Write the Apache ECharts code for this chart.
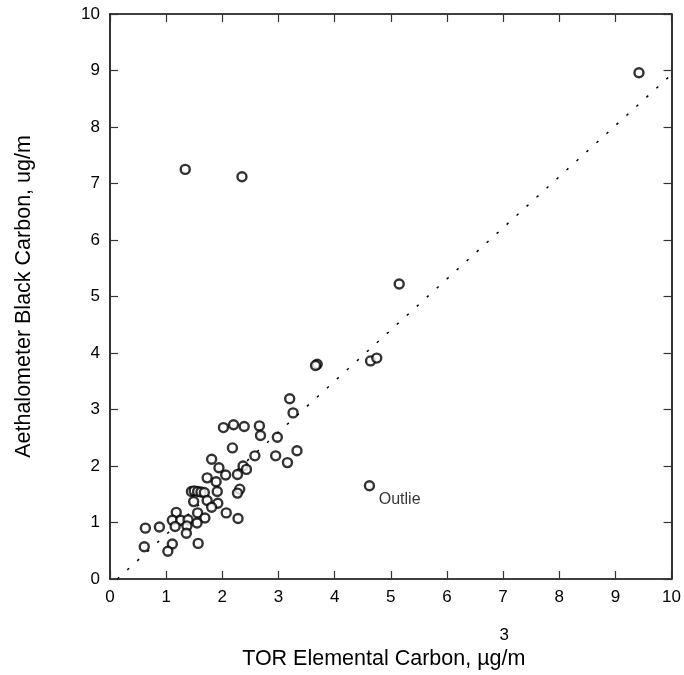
<!DOCTYPE html>
<html>
<head>
<meta charset="utf-8">
<script src="https://cdn.jsdelivr.net/npm/echarts@6/dist/echarts.min.js"></script>
<style>
  html, body { margin: 0; padding: 0; background: #fff; }
  #chart { width: 684px; height: 675px; }
</style>
</head>
<body>
<div id="chart"></div>
<script>
// TOR elemental carbon (x) vs aethalometer black carbon (y)
var torEC = [3.20, 3.26, 2.02, 2.20, 2.39, 2.66, 2.68, 2.98, 2.18, 2.58, 2.95, 3.33, 3.16,
  1.81, 1.94, 2.37, 2.43, 2.06, 2.27, 1.73, 1.89, 2.31, 2.27, 1.91, 1.45, 1.50, 1.56, 1.62,
  1.68, 1.49, 1.73, 1.92, 1.81, 1.18, 1.56, 2.07, 1.69, 2.28, 1.11, 1.26, 1.39, 1.16, 1.37,
  1.55, 1.36, 0.63, 0.88, 0.61, 1.11, 1.03, 1.57, 1.34, 2.35, 9.42, 5.15, 3.69, 3.66, 4.64, 4.75];
var aethBC = [3.19, 2.94, 2.68, 2.73, 2.70, 2.71, 2.54, 2.51, 2.32, 2.18, 2.18, 2.27, 2.06,
  2.12, 1.97, 2.00, 1.94, 1.84, 1.85, 1.79, 1.72, 1.59, 1.52, 1.55, 1.55, 1.56, 1.55, 1.54,
  1.53, 1.37, 1.39, 1.34, 1.27, 1.18, 1.17, 1.17, 1.08, 1.07, 1.04, 1.04, 1.05, 0.93, 0.94,
  0.99, 0.81, 0.90, 0.92, 0.57, 0.62, 0.49, 0.63, 7.25, 7.12, 8.96, 5.22, 3.80, 3.78, 3.86, 3.91];

var outlierX = [4.62];
var outlierY = [1.65];
var outlierText = 'Outlie';

// regression line end points
var fitX = [0.13, 10];
var fitY = [0, 8.93];

var axisTicks = [0, 1, 2, 3, 4, 5, 6, 7, 8, 9, 10];

var chartDom = document.getElementById('chart');
var myChart = echarts.init(chartDom, null, {renderer: 'canvas'});

var font = 'Liberation Sans, Arial, sans-serif';
var axisLine = {show: true, onZero: false, lineStyle: {color: '#000', width: 1.6}};
var tick = {show: true, inside: true, length: 8, lineStyle: {color: '#333', width: 1.2}};

function zip(a, b) {
  return a.map(function (v, i) { return [v, b[i]]; });
}

var symbolStyle = {color: '#fff', borderColor: '#000', borderWidth: 2.4};

var option = {
  animation: false,
  backgroundColor: '#fff',
  textStyle: {fontFamily: font},
  grid: {left: 110, right: 11, top: 14, bottom: 92},
  xAxis: [
    {
      type: 'value', min: 0, max: 10, interval: 1,
      position: 'bottom',
      axisLine: axisLine, axisTick: tick, splitLine: {show: false},
      axisLabel: {color: '#000', fontSize: 17, margin: 10, fontFamily: font,
        formatter: function (v) { return axisTicks.indexOf(v) >= 0 ? String(v) : ''; }},
      name: '{s|3}\n{t|TOR Elemental Carbon, \u00b5g/m}',
      nameLocation: 'middle',
      nameGap: 46,
      nameTextStyle: {
        rich: {
          s: {fontSize: 17, color: '#000', lineHeight: 21, padding: [0, 0, 0, 227], fontFamily: font},
          t: {fontSize: 21.5, color: '#000', lineHeight: 26, padding: [0, 14, 0, 0], fontFamily: font}
        }
      }
    },
    {
      type: 'value', min: 0, max: 10, interval: 1,
      position: 'top',
      axisLine: axisLine, axisTick: tick, splitLine: {show: false},
      axisLabel: {show: false}
    }
  ],
  yAxis: [
    {
      type: 'value', min: 0, max: 10, interval: 1,
      position: 'left',
      axisLine: axisLine, axisTick: tick, splitLine: {show: false},
      axisLabel: {color: '#000', fontSize: 17, margin: 10, fontFamily: font},
      name: 'Aethalometer Black Carbon, ug/m',
      nameLocation: 'middle',
      nameGap: 75,
      nameTextStyle: {fontSize: 21.5, color: '#000', fontFamily: font}
    },
    {
      type: 'value', min: 0, max: 10, interval: 1,
      position: 'right',
      axisLine: axisLine, axisTick: tick, splitLine: {show: false},
      axisLabel: {show: false}
    }
  ],
  series: [
    {
      type: 'line',
      data: zip(fitX, fitY),
      symbol: 'none',
      lineStyle: {color: '#000', width: 1.5, type: [2.5, 11]},
      z: 1
    },
    {
      type: 'scatter',
      data: zip(torEC, aethBC),
      symbol: 'circle',
      symbolSize: 9,
      itemStyle: symbolStyle,
      z: 3
    },
    {
      type: 'scatter',
      data: zip(outlierX, outlierY),
      symbol: 'circle',
      symbolSize: 9,
      itemStyle: symbolStyle,
      label: {
        show: true,
        position: [15, 12],
        formatter: outlierText,
        color: '#000',
        fontSize: 16,
        fontFamily: font
      },
      z: 3
    }
  ]
};

myChart.setOption(option);
</script>
</body>
</html>
